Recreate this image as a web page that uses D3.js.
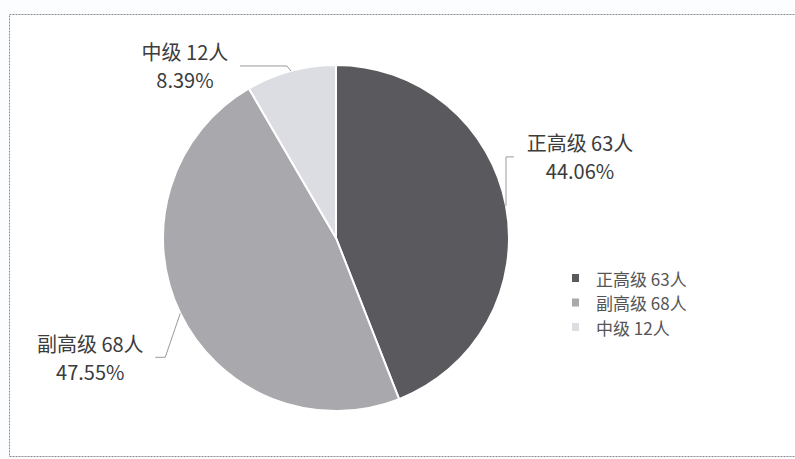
<!DOCTYPE html>
<html>
<head>
<meta charset="utf-8">
<script src="https://cdn.jsdelivr.net/npm/d3@7"></script>
<style>
  html, body { margin: 0; padding: 0; background: #fcfdff; }
  svg { display: block; font-family: "Noto Sans CJK SC", "Noto Sans", sans-serif; }
</style>
</head>
<body>
<svg id="chart" width="795" height="459"></svg>
<script>
// ---- data ----
const categories = ["正高级", "副高级", "中级"];
const counts = [63, 68, 12];
const percentLabels = ["44.06%", "47.55%", "8.39%"];
const unit = "人";

// ---- layout / style (not data) ----
const colors = ["#5a5a5e", "#a8a8ad", "#dcdde3"];
const cx = 336, cy = 238, radius = 173;
// label leader geometry: elbow offset from arc point, horizontal run, label center offset
const labelLayout = [
  { elbow: [0, -49], run: 8,  textDx: 66 },
  { elbow: [-15, 44], run: -10, textDx: -65 },
  { elbow: [-4, -5], run: -47, textDx: -55 }
];

const svg = d3.select("#chart");

// frame
svg.append("rect")
  .attr("x", 9.5).attr("y", 14.5)
  .attr("width", 800).attr("height", 442)
  .attr("fill", "#ffffff")
  .attr("stroke", "#8c8c8c")
  .attr("stroke-dasharray", "2,1")
  .attr("stroke-width", 1);

const pie = d3.pie().sort(null).value(d => d)(counts);
const arc = d3.arc().innerRadius(0).outerRadius(radius);

const g = svg.append("g").attr("transform", `translate(${cx},${cy})`);

g.selectAll("path.slice")
  .data(pie)
  .join("path")
  .attr("class", "slice")
  .attr("d", arc)
  .attr("fill", (d, i) => colors[i])
  .attr("stroke", "#ffffff")
  .attr("stroke-width", 2);

// labels + leader lines
pie.forEach((d, i) => {
  const mid = (d.startAngle + d.endAngle) / 2;
  const p0 = [radius * Math.sin(mid), -radius * Math.cos(mid)];
  const L = labelLayout[i];
  const p1 = [p0[0] + L.elbow[0], p0[1] + L.elbow[1]];
  const p2 = [p1[0] + L.run, p1[1]];
  g.append("path")
    .attr("d", d3.line()([p0, p1, p2]))
    .attr("fill", "none")
    .attr("stroke", "#9a9a9a")
    .attr("stroke-width", 1);
  const tx = p2[0] + L.textDx;
  g.append("text")
    .attr("x", tx)
    .attr("y", p2[1] - 14)
    .attr("text-anchor", "middle")
    .attr("dominant-baseline", "central")
    .attr("fill", "#3c3c3c")
    .attr("font-size", 20)
    .text(`${categories[i]} ${counts[i]}${unit}`);
  g.append("text")
    .attr("x", tx)
    .attr("y", p2[1] + 14)
    .attr("text-anchor", "middle")
    .attr("dominant-baseline", "central")
    .attr("fill", "#3c3c3c")
    .attr("font-size", 20)
    .text(percentLabels[i]);
});

// legend
const legend = svg.append("g").attr("transform", "translate(572,278)");
const items = legend.selectAll("g.item")
  .data(categories)
  .join("g")
  .attr("class", "item")
  .attr("transform", (d, i) => `translate(0,${i * 24.5})`);
items.append("rect")
  .attr("x", 0).attr("y", -4)
  .attr("width", 7).attr("height", 8)
  .attr("fill", (d, i) => colors[i]);
items.append("text")
  .attr("x", 24).attr("y", 0)
  .attr("dominant-baseline", "central")
  .attr("font-size", 17)
  .attr("fill", "#555")
  .text((d, i) => `${d} ${counts[i]}${unit}`);
</script>
</body>
</html>
